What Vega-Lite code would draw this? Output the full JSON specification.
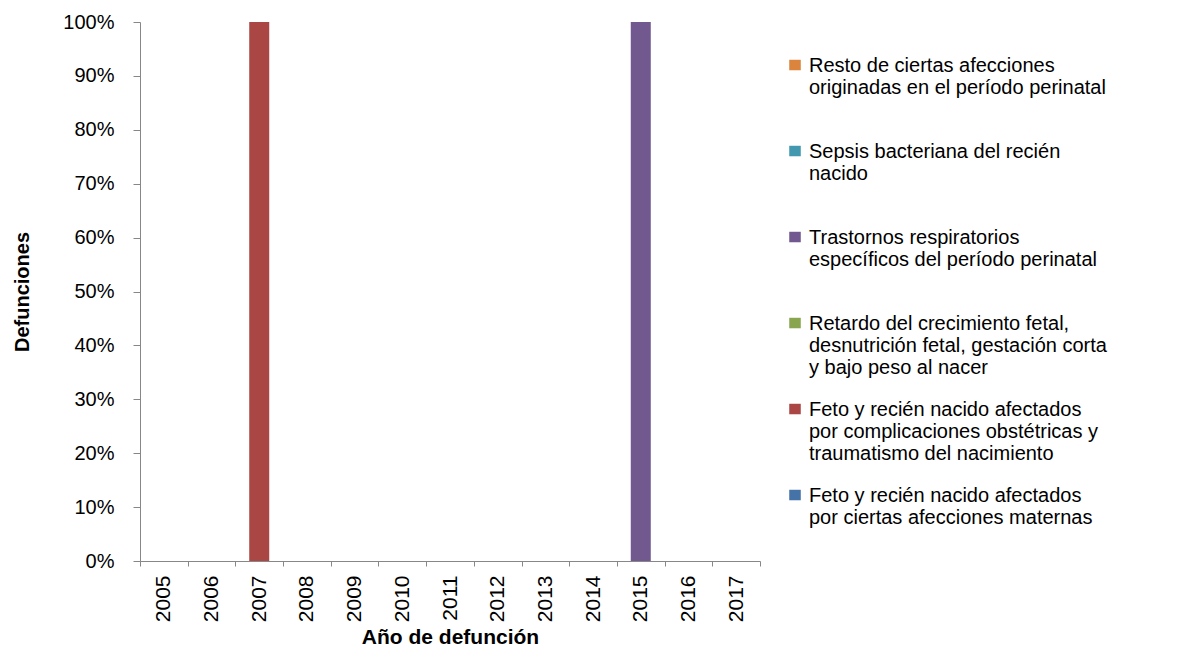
{
  "$schema": "https://vega.github.io/schema/vega-lite/v6.json",
  "autosize": {"type": "none"},
  "padding": {"left": 140, "top": 22, "right": 420, "bottom": 86},
  "width": 620,
  "height": 539,
  "background": "white",
  "config": {
    "view": {"stroke": null},
    "font": "Liberation Sans"
  },
  "data": {
    "values": [
      {"Año": "2007", "Causa": "Feto y recién nacido afectados por complicaciones obstétricas y traumatismo del nacimiento", "Defunciones": 1},
      {"Año": "2015", "Causa": "Trastornos respiratorios específicos del período perinatal", "Defunciones": 1}
    ]
  },
  "mark": {"type": "bar", "width": 20},
  "encoding": {
    "x": {
      "field": "Año",
      "type": "ordinal",
      "scale": {"domain": ["2005","2006","2007","2008","2009","2010","2011","2012","2013","2014","2015","2016","2017"], "paddingInner": 0, "paddingOuter": 0},
      "axis": {
        "title": "Año de defunción",
        "titleFont": "Liberation Sans",
        "titleFontSize": 21,
        "titleFontWeight": "bold",
        "titleColor": "black",
        "titleX": 310,
        "titleY": 82,
        "titleBaseline": "alphabetic",
        "titleAlign": "center",
        "labelAngle": -90,
        "labelFontSize": 21,
        "labelColor": "black",
        "labelPadding": 9,
        "tickSize": 5,
        "tickBand": "extent",
        "tickColor": "#878787",
        "domainColor": "#878787",
        "grid": false
      }
    },
    "y": {
      "field": "Defunciones",
      "type": "quantitative",
      "stack": "normalize",
      "scale": {"domain": [0, 1]},
      "axis": {
        "title": "Defunciones",
        "titleFont": "Liberation Sans",
        "titleFontSize": 20,
        "titleFontWeight": "bold",
        "titleColor": "black",
        "titleAngle": 270,
        "titleX": -118,
        "titleY": 269.5,
        "titleAlign": "center",
        "titleBaseline": "middle",
        "values": [0, 0.1, 0.2, 0.3, 0.4, 0.5, 0.6, 0.7, 0.8, 0.9, 1],
        "format": ".0%",
        "labelFontSize": 20,
        "labelColor": "black",
        "labelPadding": 19,
        "tickSize": 7,
        "tickColor": "#878787",
        "domainColor": "#878787",
        "grid": false
      }
    },
    "color": {
      "field": "Causa",
      "type": "nominal",
      "scale": {
        "domain": [
          "Resto de ciertas afecciones originadas en el período perinatal",
          "Sepsis bacteriana del recién nacido",
          "Trastornos respiratorios específicos del período perinatal",
          "Retardo del crecimiento fetal, desnutrición fetal, gestación corta y bajo peso al nacer",
          "Feto y recién nacido afectados por complicaciones obstétricas y traumatismo del nacimiento",
          "Feto y recién nacido afectados por ciertas afecciones maternas"
        ],
        "range": ["#DB843D", "#4198AF", "#71588F", "#89A54E", "#AA4643", "#4572A7"]
      },
      "legend": {
        "title": null,
        "orient": "none",
        "legendX": 645,
        "legendY": 24,
        "padding": 0,
        "symbolType": "M-1.1,0.72 H1.1 V2.72 H-1.1 Z",
        "symbolSize": 110,
        "symbolStrokeWidth": 0,
        "labelFontSize": 20,
        "labelColor": "black",
        "labelLimit": 500,
        "labelOffset": 4,
        "labelBaseline": "top",
        "labelLineHeight": 23,
        "gridAlign": "all",
        "rowPadding": 12,
        "labelExpr": "datum.label == 'Resto de ciertas afecciones originadas en el período perinatal' ? ['Resto de ciertas afecciones', 'originadas en el período perinatal'] : datum.label == 'Sepsis bacteriana del recién nacido' ? ['Sepsis bacteriana del recién', 'nacido'] : datum.label == 'Trastornos respiratorios específicos del período perinatal' ? ['Trastornos respiratorios', 'específicos del período perinatal'] : datum.label == 'Retardo del crecimiento fetal, desnutrición fetal, gestación corta y bajo peso al nacer' ? ['Retardo del crecimiento fetal,', 'desnutrición fetal, gestación corta', 'y bajo peso al nacer'] : datum.label == 'Feto y recién nacido afectados por complicaciones obstétricas y traumatismo del nacimiento' ? ['Feto y recién nacido afectados', 'por complicaciones obstétricas y', 'traumatismo del nacimiento'] : ['Feto y recién nacido afectados', 'por ciertas afecciones maternas']"
      }
    }
  }
}
